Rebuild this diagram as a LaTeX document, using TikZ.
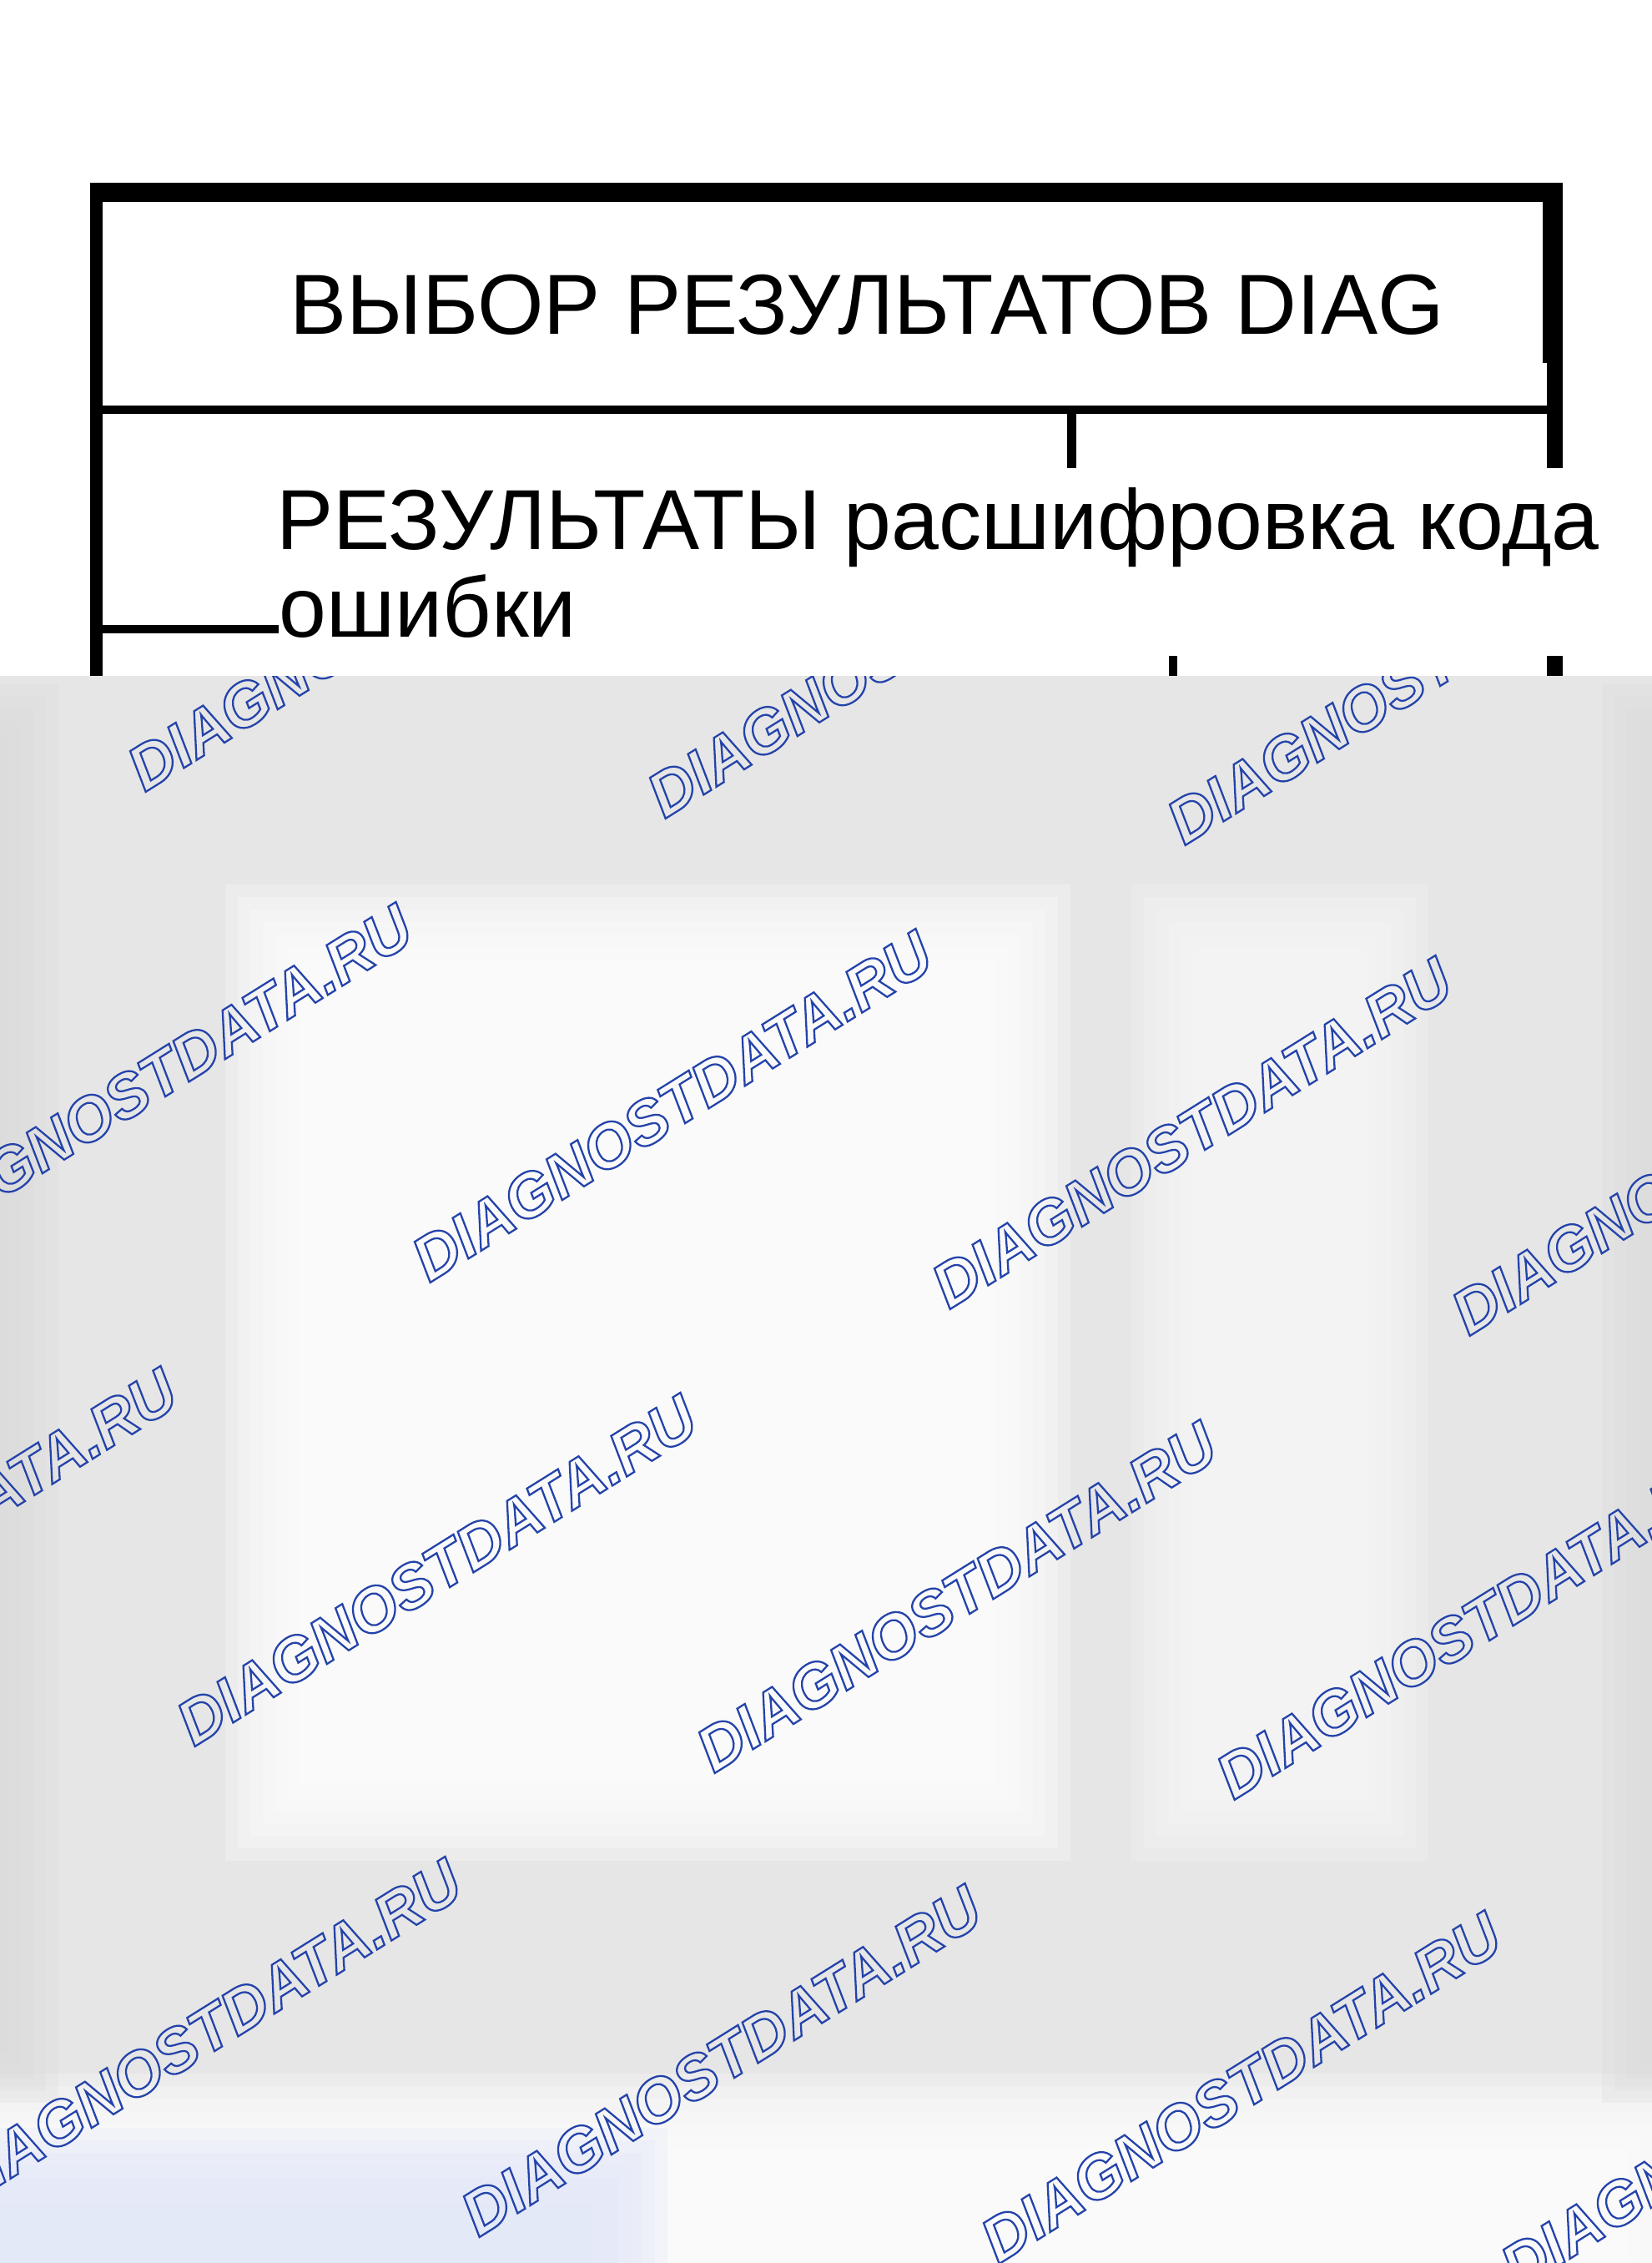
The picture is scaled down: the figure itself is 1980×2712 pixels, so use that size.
\documentclass[tikz,border=0pt]{standalone}
\usepackage{fontspec}
\setmainfont{Liberation Sans}
\definecolor{wmblue}{HTML}{2443AA}
\definecolor{veil}{HTML}{E6E6E6}
\definecolor{veillight}{HTML}{FDFDFD}
\definecolor{veilmid}{HTML}{F6F6F6}
\definecolor{veildark}{HTML}{DCDCDC}
\definecolor{veilblue}{HTML}{E4E9F8}
\newcommand{\hollow}[1]{\special{pdf:literal 1 Tr 0.65 w}#1\special{pdf:literal 0 Tr}}

\begin{document}
\begin{tikzpicture}[x=0.01cm,y=-0.01cm,
  label/.style={anchor=base west,inner sep=0pt,font=\fontsize{29.05}{30}\selectfont},
  wmark/.style={anchor=base west,inner sep=0pt,rotate=32,text=wmblue,font=\fontsize{21.2}{25}\selectfont\bfseries\itshape}]
\useasboundingbox (0,0) rectangle (1980,2712);
\fill[white] (0,0) rectangle (1980,2712);

\node[label] (0) at (347,400) {ВЫБОР РЕЗУЛЬТАТОВ DIAG};
\node[label] (1) at (331,658) {РЕЗУЛЬТАТЫ расшифровка кода};
\node[label] (2) at (334,763) {ошибки};

\coordinate (tl) at (108,230.5);
\coordinate (tr) at (1873,230.5);
\coordinate (dl) at (123,491);
\coordinate (dr) at (1854,491);
\coordinate (e) at (123,754);

\path [draw=black,line width=6.54pt] (tl) -- (tr);
\path [draw=black,line width=4.27pt] (115.5,219) -- (115.5,810);
\path [draw=black,line width=6.83pt] (1861,219) -- (1861,435);
\path [draw=black,line width=5.4pt] (1863.5,435) -- (1863.5,561);
\path [draw=black,line width=5.4pt] (1863.5,786) -- (1863.5,810);
\path [draw=black,line width=2.7pt] (dl) -- (dr);
\path [draw=black,line width=3.1pt] (1284.5,491) -- (1284.5,561);
\path [draw=black,line width=2.85pt] (1406,786) -- (1406,810);
\path [draw=black,line width=2.85pt] (e) -- (e -| 2.west);

\begin{scope}
\clip (0,810) rectangle (1980,2712);
\fill[veil] (0,810) rectangle (1980,2712);
\foreach \xa/\ya/\xb/\yb/\c in {270/1060/1283/2230/veillight,1356/1060/1712/2230/veilmid,
    -60/2485/2040/2800/veillight,-140/820/70/2520/veildark,
    1920/820/2120/2520/veildark,-120/2550/800/2820/veilblue}
  \foreach \k in {0,...,7}
    \fill[\c,opacity=0.3] (\xa+15*\k,\ya+15*\k) rectangle (\xb-15*\k,\yb-15*\k);
\foreach \i in {0,...,5}
  \foreach \j in {0,...,3}
    \node[wmark] (w\i\j) at (173+623*\i-1246+341*\j,950+32*\i-64+588*\j) {\hollow{DIAGNOSTDATA.RU}};
\end{scope}
\end{tikzpicture}
\end{document}
